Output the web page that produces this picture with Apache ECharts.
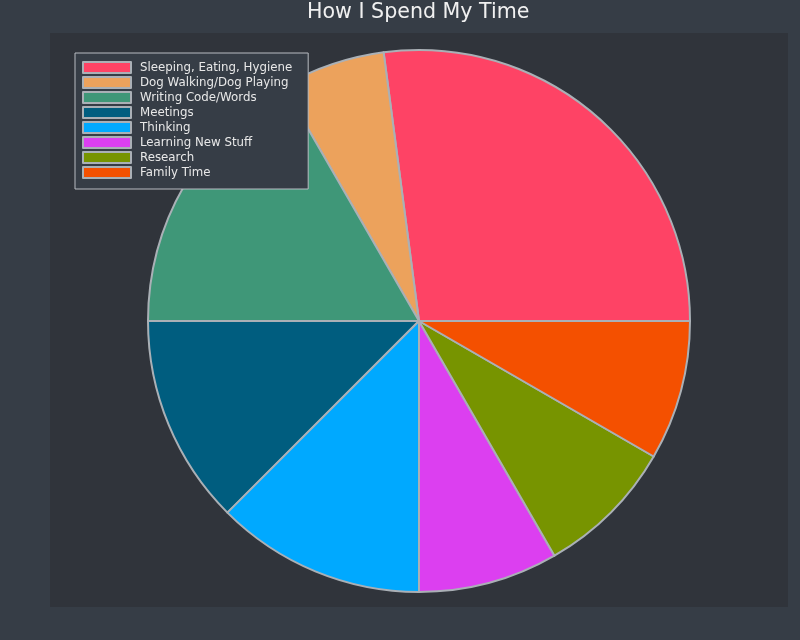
<!DOCTYPE html>
<html>
<head>
<meta charset="utf-8">
<script src="https://cdn.jsdelivr.net/npm/echarts@6/dist/echarts.min.js"></script>
<style>
html,body{margin:0;padding:0;background:#363d46;}
#main{width:800px;height:640px;}
</style>
</head>
<body>
<div id="main"></div>
<script>
const categories = ["Sleeping, Eating, Hygiene","Dog Walking/Dog Playing","Writing Code/Words","Meetings","Thinking","Learning New Stuff","Research","Family Time"];
const hours = [6.5, 1.5, 4, 3, 3, 2, 2, 2];
const colors = ["#fe4365","#eca25c","#3f9778","#005d7f","#00a9ff","#dc3ff0","#779400","#f45000"];

const chart = echarts.init(document.getElementById('main'));
chart.setOption({
  backgroundColor: '#363d46',
  animation: false,
  title: {
    text: 'How I Spend My Time',
    left: 307, top: 2, padding: 0,
    textStyle: {color: '#f0f0f0', fontSize: 20.6, fontWeight: 'normal', fontFamily: 'DejaVu Sans'}
  },
  graphic: [{
    type: 'rect', z: -10,
    shape: {x: 50, y: 33, width: 738, height: 574},
    style: {fill: '#30343b'}
  }],
  legend: {
    orient: 'vertical',
    left: 75, top: 53,
    padding: [8, 16, 10, 7],
    backgroundColor: '#363d46',
    borderColor: '#b8bcc2', borderWidth: 1,
    itemWidth: 48, itemHeight: 11, itemGap: 2,
    icon: 'rect',
    textStyle: {color: '#e8e8e8', fontSize: 11.8, fontFamily: 'DejaVu Sans', lineHeight: 11, height: 11, padding: [0,0,0,4]},
    data: categories
  },
  series: [{
    type: 'pie',
    center: [419, 321],
    radius: 271,
    startAngle: 0,
    clockwise: false,
    label: {show: false},
    labelLine: {show: false},
    emphasis: {disabled: true},
    itemStyle: {borderColor: '#aab0b6', borderWidth: 2},
    data: categories.map((c, i) => ({name: c, value: hours[i], itemStyle: {color: colors[i]}}))
  }]
});
</script>
</body>
</html>
